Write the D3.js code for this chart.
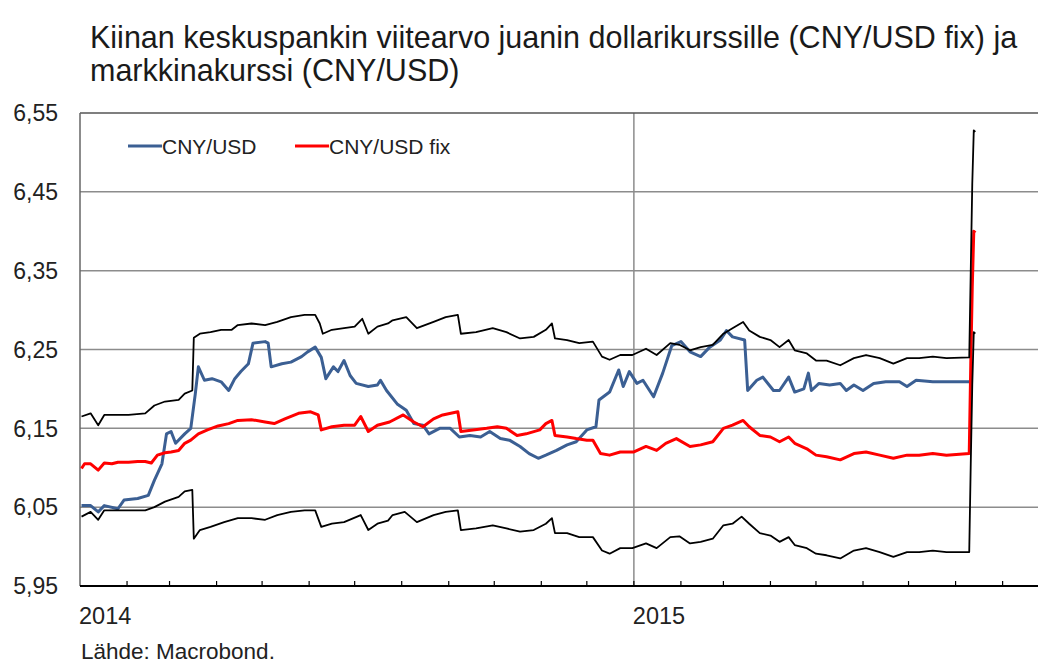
<!DOCTYPE html>
<html>
<head>
<meta charset="utf-8">
<title>CNY/USD fix ja markkinakurssi</title>
<script src="https://d3js.org/d3.v7.min.js"></script>
<style>
  body { margin: 0; background: #fff; }
  svg { display: block; font-family: Arial, "Liberation Sans", sans-serif; }
  .grid line { stroke: #8c8c8c; stroke-width: 1.5; }
  .series { fill: none; stroke-linejoin: round; }
</style>
</head>
<body>
<script>

// market rate CNY/USD
var cnyDates = [
  "2014-01-02","2014-01-08","2014-01-13","2014-01-17","2014-01-26","2014-01-30","2014-02-08","2014-02-15",
  "2014-02-19","2014-02-24","2014-02-27","2014-03-02","2014-03-05","2014-03-11","2014-03-15","2014-03-18",
  "2014-03-20","2014-03-24","2014-03-29","2014-04-04","2014-04-09","2014-04-13","2014-04-17","2014-04-22",
  "2014-04-25","2014-05-03","2014-05-05","2014-05-07","2014-05-14","2014-05-20","2014-05-27","2014-05-31",
  "2014-06-05","2014-06-09","2014-06-12","2014-06-17","2014-06-20","2014-06-24","2014-06-28","2014-07-02",
  "2014-07-10","2014-07-16","2014-07-18","2014-07-22","2014-07-29","2014-08-04","2014-08-09","2014-08-15",
  "2014-08-19","2014-08-26","2014-09-02","2014-09-08","2014-09-15","2014-09-22","2014-09-28","2014-10-05",
  "2014-10-11","2014-10-18","2014-10-24","2014-10-30","2014-11-04","2014-11-11","2014-11-18","2014-11-24",
  "2014-12-01","2014-12-07","2014-12-09","2014-12-16","2014-12-22","2014-12-25","2014-12-29","2015-01-03",
  "2015-01-07","2015-01-14","2015-01-20","2015-01-26","2015-02-01","2015-02-07","2015-02-14","2015-02-20",
  "2015-02-27","2015-03-03","2015-03-07","2015-03-15","2015-03-17","2015-03-23","2015-03-27","2015-04-03",
  "2015-04-07","2015-04-13","2015-04-17","2015-04-23","2015-04-26","2015-04-28","2015-05-03","2015-05-10",
  "2015-05-17","2015-05-21","2015-05-26","2015-06-01","2015-06-08","2015-06-16","2015-06-25","2015-06-30",
  "2015-07-06","2015-07-17","2015-07-26","2015-08-10"
];
var cnyValues = [
  6.052,6.052,6.044,6.052,6.048,6.059,6.061,6.065,
  6.084,6.105,6.143,6.146,6.131,6.143,6.150,6.194,
  6.228,6.211,6.213,6.209,6.198,6.213,6.222,6.232,
  6.258,6.260,6.258,6.228,6.232,6.234,6.241,6.247,
  6.253,6.240,6.213,6.228,6.222,6.236,6.217,6.207,
  6.203,6.205,6.211,6.198,6.181,6.173,6.156,6.154,
  6.143,6.150,6.150,6.139,6.141,6.139,6.146,6.137,
  6.135,6.127,6.118,6.112,6.116,6.122,6.129,6.133,
  6.148,6.152,6.186,6.196,6.224,6.203,6.222,6.207,
  6.211,6.190,6.220,6.255,6.260,6.247,6.241,6.253,
  6.262,6.274,6.266,6.262,6.198,6.211,6.215,6.198,
  6.198,6.215,6.196,6.200,6.220,6.198,6.207,6.205,
  6.207,6.198,6.205,6.198,6.207,6.209,6.209,6.203,
  6.211,6.209,6.209,6.209
];

// central bank fixing CNY/USD fix
var fixDates = [
  "2014-01-02","2014-01-04","2014-01-08","2014-01-13","2014-01-17","2014-01-22","2014-01-26","2014-02-02",
  "2014-02-08","2014-02-13","2014-02-17","2014-02-21","2014-02-26","2014-03-02","2014-03-07","2014-03-11",
  "2014-03-15","2014-03-20","2014-03-26","2014-04-02","2014-04-09","2014-04-15","2014-04-24","2014-05-03",
  "2014-05-09","2014-05-16","2014-05-25","2014-06-02","2014-06-07","2014-06-09","2014-06-16","2014-06-24",
  "2014-07-01","2014-07-05","2014-07-10","2014-07-16","2014-07-24","2014-08-02","2014-08-09","2014-08-15",
  "2014-08-22","2014-08-28","2014-09-07","2014-09-09","2014-09-17","2014-09-26","2014-10-03","2014-10-09",
  "2014-10-16","2014-10-22","2014-10-31","2014-11-04","2014-11-08","2014-11-10","2014-11-18","2014-11-24",
  "2014-12-01","2014-12-05","2014-12-10","2014-12-16","2014-12-23","2015-01-01","2015-01-09","2015-01-16",
  "2015-01-22","2015-01-29","2015-02-07","2015-02-14","2015-02-22","2015-03-01","2015-03-07","2015-03-14",
  "2015-03-18","2015-03-25","2015-04-01","2015-04-07","2015-04-13","2015-04-17","2015-04-25","2015-05-01",
  "2015-05-08","2015-05-17","2015-05-26","2015-06-03","2015-06-12","2015-06-21","2015-06-30","2015-07-08",
  "2015-07-17","2015-07-26","2015-08-10","2015-08-11","2015-08-12","2015-08-13","2015-08-14"
];
var fixValues = [
  6.099,6.105,6.105,6.097,6.106,6.105,6.107,6.107,
  6.108,6.108,6.106,6.116,6.119,6.120,6.122,6.131,
  6.135,6.143,6.148,6.153,6.156,6.160,6.161,6.158,
  6.156,6.162,6.169,6.171,6.167,6.148,6.152,6.154,
  6.154,6.165,6.146,6.154,6.158,6.167,6.158,6.152,
  6.162,6.167,6.171,6.146,6.148,6.150,6.152,6.150,
  6.141,6.143,6.148,6.156,6.160,6.141,6.139,6.137,
  6.135,6.135,6.118,6.116,6.120,6.120,6.127,6.122,
  6.131,6.137,6.127,6.129,6.133,6.150,6.154,6.160,
  6.152,6.141,6.139,6.133,6.139,6.131,6.124,6.116,
  6.114,6.110,6.118,6.120,6.116,6.112,6.116,6.116,
  6.118,6.116,6.118,6.230,6.330,6.400,6.398
];

// trading band, upper edge (black)
var upperDates = [
  "2014-01-02","2014-01-08","2014-01-13","2014-01-17","2014-01-22","2014-02-02","2014-02-13","2014-02-19",
  "2014-02-26","2014-03-07","2014-03-11","2014-03-16","2014-03-17","2014-03-21","2014-03-28","2014-04-04",
  "2014-04-11","2014-04-15","2014-04-24","2014-05-03","2014-05-11","2014-05-20","2014-05-29","2014-06-05",
  "2014-06-08","2014-06-10","2014-06-16","2014-06-24","2014-07-01","2014-07-06","2014-07-10","2014-07-16",
  "2014-07-23","2014-07-26","2014-08-04","2014-08-11","2014-08-22","2014-08-30","2014-09-07","2014-09-09",
  "2014-09-19","2014-09-30","2014-10-09","2014-10-18","2014-10-27","2014-11-04","2014-11-08","2014-11-10",
  "2014-11-18","2014-11-26","2014-12-05","2014-12-11","2014-12-16","2014-12-23","2014-12-31","2015-01-09",
  "2015-01-16","2015-01-25","2015-01-31","2015-02-07","2015-02-14","2015-02-22","2015-03-01","2015-03-07",
  "2015-03-14","2015-03-18","2015-03-25","2015-04-01","2015-04-07","2015-04-13","2015-04-17","2015-04-25",
  "2015-05-01","2015-05-08","2015-05-17","2015-05-26","2015-06-03","2015-06-12","2015-06-21","2015-06-30",
  "2015-07-08","2015-07-17","2015-07-26","2015-08-10","2015-08-11","2015-08-12","2015-08-13","2015-08-14"
];
var upperValues = [
  6.165,6.169,6.154,6.167,6.167,6.167,6.169,6.179,
  6.184,6.186,6.194,6.198,6.265,6.270,6.272,6.275,
  6.275,6.281,6.283,6.281,6.285,6.291,6.294,6.294,
  6.283,6.270,6.275,6.277,6.279,6.289,6.270,6.279,
  6.283,6.287,6.291,6.277,6.285,6.291,6.294,6.270,
  6.272,6.277,6.272,6.264,6.266,6.275,6.283,6.264,
  6.262,6.258,6.260,6.241,6.237,6.243,6.243,6.251,
  6.243,6.258,6.256,6.249,6.253,6.256,6.270,6.277,
  6.285,6.274,6.266,6.262,6.253,6.262,6.249,6.245,
  6.236,6.236,6.230,6.239,6.243,6.239,6.232,6.239,
  6.239,6.241,6.239,6.240,6.350,6.460,6.528,6.526
];

// trading band, lower edge (black)
var lowerDates = [
  "2014-01-02","2014-01-08","2014-01-13","2014-01-17","2014-02-02","2014-02-13","2014-02-19","2014-02-26",
  "2014-03-07","2014-03-11","2014-03-16","2014-03-17","2014-03-21","2014-03-28","2014-04-06","2014-04-15",
  "2014-04-24","2014-05-03","2014-05-11","2014-05-20","2014-05-29","2014-06-05","2014-06-09","2014-06-16",
  "2014-06-24","2014-07-05","2014-07-10","2014-07-16","2014-07-23","2014-07-26","2014-08-03","2014-08-11",
  "2014-08-22","2014-08-30","2014-09-07","2014-09-09","2014-09-19","2014-09-30","2014-10-09","2014-10-18",
  "2014-10-27","2014-11-04","2014-11-08","2014-11-10","2014-11-18","2014-11-26","2014-12-05","2014-12-11",
  "2014-12-16","2014-12-23","2014-12-31","2015-01-09","2015-01-16","2015-01-25","2015-01-31","2015-02-07",
  "2015-02-14","2015-02-22","2015-03-01","2015-03-07","2015-03-13","2015-03-18","2015-03-25","2015-04-01",
  "2015-04-07","2015-04-13","2015-04-17","2015-04-25","2015-05-01","2015-05-08","2015-05-17","2015-05-26",
  "2015-06-03","2015-06-12","2015-06-21","2015-06-30","2015-07-08","2015-07-17","2015-07-26","2015-08-10",
  "2015-08-11","2015-08-12","2015-08-13","2015-08-14"
];
var lowerValues = [
  6.038,6.044,6.034,6.046,6.046,6.046,6.050,6.057,
  6.063,6.070,6.072,6.010,6.021,6.025,6.031,6.036,
  6.036,6.034,6.040,6.044,6.046,6.046,6.025,6.029,
  6.031,6.040,6.021,6.029,6.033,6.040,6.044,6.031,
  6.040,6.044,6.046,6.021,6.023,6.027,6.023,6.019,
  6.021,6.029,6.036,6.017,6.017,6.012,6.012,5.995,
  5.991,5.998,5.998,6.004,5.998,6.012,6.013,6.004,
  6.006,6.010,6.027,6.029,6.038,6.029,6.017,6.014,
  6.006,6.012,6.002,5.998,5.991,5.989,5.985,5.995,
  5.998,5.993,5.987,5.993,5.993,5.995,5.993,5.993,
  6.105,6.205,6.272,6.270
];

var yTicks = [5.95, 6.05, 6.15, 6.25, 6.35, 6.45, 6.55];
var yearTicks = ["2014-01-01", "2015-01-01"];
var legendLabels = ["CNY/USD", "CNY/USD fix"];
var titleLines = [
  "Kiinan keskuspankin viitearvo juanin dollarikurssille (CNY/USD fix) ja",
  "markkinakurssi (CNY/USD)"
];
var sourceText = "Lähde: Macrobond.";

var width = 1038, height = 667;
var plot = {left: 80, right: 1036, top: 113, bottom: 586};

var parse = d3.timeParse("%Y-%m-%d");
var fi = d3.formatLocale({decimal: ",", thousands: " ", grouping: [3], currency: ["", ""]});
var fmt = fi.format(".2f");

var x = d3.scaleTime()
    .domain([parse("2014-01-01"), parse("2015-09-23")])
    .range([plot.left, plot.right]);

var y = d3.scaleLinear()
    .domain([5.95, 6.55])
    .range([plot.bottom, plot.top]);

function series(dates, values) {
  return dates.map(function(d, i) { return {date: parse(d), value: values[i]}; });
}

var line = d3.line()
    .defined(function(d) { return d.value != null; })
    .x(function(d) { return x(d.date); })
    .y(function(d) { return y(d.value); });

var svg = d3.select("body").append("svg")
    .attr("width", width)
    .attr("height", height);

// title
svg.append("g")
  .selectAll("text")
  .data(titleLines)
  .enter().append("text")
    .attr("x", 90)
    .attr("y", function(d, i) { return 48 + i * 33; })
    .attr("font-size", 30.5)
    .attr("fill", "#1a1a1a")
    .text(function(d) { return d; });

// horizontal gridlines
svg.append("g")
    .attr("class", "grid")
  .selectAll("line")
  .data(yTicks.slice(1, -1))
  .enter().append("line")
    .attr("x1", plot.left)
    .attr("x2", width)
    .attr("y1", function(d) { return y(d); })
    .attr("y2", function(d) { return y(d); });

// vertical gridline at year change
svg.append("line")
    .attr("x1", x(parse(yearTicks[1])))
    .attr("x2", x(parse(yearTicks[1])))
    .attr("y1", plot.top)
    .attr("y2", plot.bottom)
    .attr("stroke", "#8c8c8c")
    .attr("stroke-width", 1.5);

// frame: top and left
svg.append("line")
    .attr("x1", plot.left).attr("x2", width)
    .attr("y1", y(6.55)).attr("y2", y(6.55))
    .attr("stroke", "#555").attr("stroke-width", 1.5);
svg.append("line")
    .attr("x1", plot.left).attr("x2", plot.left)
    .attr("y1", plot.top).attr("y2", plot.bottom)
    .attr("stroke", "#666").attr("stroke-width", 1.5);

// y labels
svg.append("g")
    .attr("font-size", 23)
    .attr("fill", "#222")
    .attr("text-anchor", "end")
  .selectAll("text")
  .data(yTicks)
  .enter().append("text")
    .attr("x", 58)
    .attr("y", function(d) { return y(d); })
    .attr("dy", "0.36em")
    .text(function(d) { return fmt(d); });

// series
svg.append("path")
    .datum(series(cnyDates, cnyValues))
    .attr("class", "series")
    .attr("stroke", "#3b5f93")
    .attr("stroke-width", 3)
    .attr("d", line);

svg.append("path")
    .datum(series(fixDates, fixValues))
    .attr("class", "series")
    .attr("stroke", "#ff0000")
    .attr("stroke-width", 3)
    .attr("d", line);

[series(upperDates, upperValues), series(lowerDates, lowerValues)].forEach(function(s) {
  svg.append("path")
      .datum(s)
      .attr("class", "series")
      .attr("stroke", "#000")
      .attr("stroke-width", 1.8)
      .attr("d", line);
});

// x axis with month ticks pointing up
var months = d3.timeMonth.range(parse("2014-02-01"), parse("2015-09-24"));
svg.append("g")
  .selectAll("line")
  .data(months)
  .enter().append("line")
    .attr("x1", function(d) { return x(d); })
    .attr("x2", function(d) { return x(d); })
    .attr("y1", plot.bottom)
    .attr("y2", plot.bottom - 5)
    .attr("stroke", "#000")
    .attr("stroke-width", 1.2);

svg.append("line")
    .attr("x1", plot.left).attr("x2", width)
    .attr("y1", plot.bottom).attr("y2", plot.bottom)
    .attr("stroke", "#000").attr("stroke-width", 2);

svg.append("g")
    .attr("font-size", 23.5)
    .attr("fill", "#222")
  .selectAll("text")
  .data(yearTicks)
  .enter().append("text")
    .attr("x", function(d) { return x(parse(d)) - 1; })
    .attr("y", 624)
    .text(function(d) { return d.slice(0, 4); });

// legend
var legendColors = ["#3b5f93", "#ff0000"];
var legendX = [128, 295];
var legend = svg.append("g")
  .selectAll("g")
  .data(legendLabels)
  .enter().append("g")
    .attr("transform", function(d, i) { return "translate(" + legendX[i] + ",146)"; });

legend.append("line")
    .attr("x1", 0).attr("x2", 34)
    .attr("stroke", function(d, i) { return legendColors[i]; })
    .attr("stroke-width", 3);

legend.append("text")
    .attr("x", 34)
    .attr("dy", "0.36em")
    .attr("font-size", 21)
    .attr("fill", "#222")
    .text(function(d) { return d; });

// source
svg.append("text")
    .attr("x", 81)
    .attr("y", 659)
    .attr("font-size", 22.5)
    .attr("fill", "#222")
    .text(sourceText);

</script>
</body>
</html>
